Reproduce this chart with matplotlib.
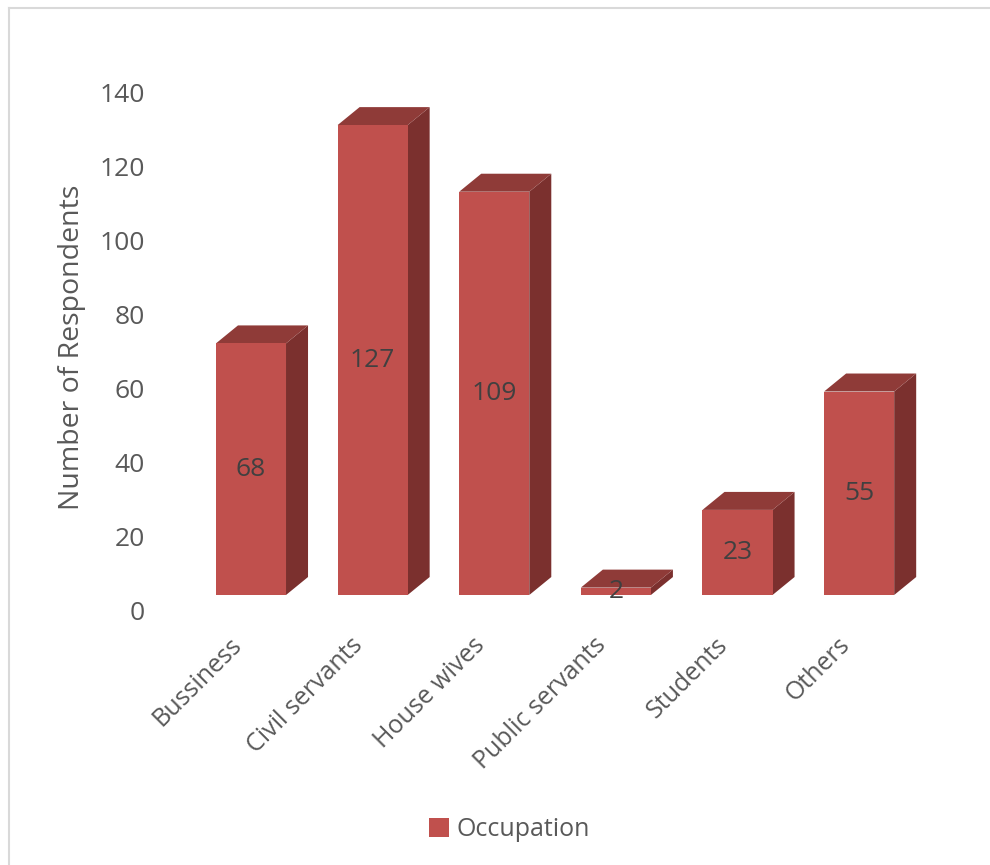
import matplotlib
matplotlib.use("Agg")
import matplotlib.pyplot as plt
from matplotlib.patches import Polygon
from matplotlib.transforms import ScaledTranslation
from matplotlib.lines import Line2D

categories = ["Bussiness", "Civil servants", "House wives", "Public servants", "Students", "Others"]
values = [68, 127, 109, 2, 23, 55]
series_name = "Occupation"
yticks = [0, 20, 40, 60, 80, 100, 120, 140]

FRONT = "#C0504D"
TOP = "#8F3B38"
SIDE = "#7B302E"
TEXT = "#595959"
LABEL = "#404040"
FONT = "Open Sans"
FS = 19

W, H, DPI = 990, 865, 100
fig = plt.figure(figsize=(W / DPI, H / DPI), dpi=DPI)
plt.rcParams['font.family'] = [FONT, 'DejaVu Sans']

# axes: px 160..950 horizontally, 77..595 vertically
ax = fig.add_axes([160 / W, (H - 595) / H, 790 / W, 518 / H])
ax.set_xlim(-0.748, 5.747)
ax.set_ylim(0, 140)

bw = 0.576
dx = 0.181   # depth in category units
dy = 4.86    # depth in value units

for i, v in enumerate(values):
    x0, x1 = i - bw / 2, i + bw / 2
    ax.add_patch(Polygon([(x1, 0), (x1 + dx, dy), (x1 + dx, v + dy), (x1, v)],
                         closed=True, facecolor=SIDE, edgecolor='none', zorder=2))
    ax.add_patch(Polygon([(x0, v), (x1, v), (x1 + dx, v + dy), (x0 + dx, v + dy)],
                         closed=True, facecolor=TOP, edgecolor='none', zorder=2))
bars = ax.bar(range(len(values)), values, width=bw, color=FRONT, zorder=3)
for i, v in enumerate(values):
    ax.text(i, v / 2, str(v), ha='center', va='center', fontsize=FS, color=LABEL,
            family=FONT, zorder=4)

for s in ax.spines.values():
    s.set_visible(False)
ax.set_yticks(yticks)
ax.set_yticklabels([str(t) for t in yticks], fontsize=FS, color=TEXT, family=FONT)
ax.tick_params(axis='y', length=0, pad=10.8)
ax.set_xticks(range(len(categories)))
ax.set_xticklabels(categories, rotation=45, ha='right', rotation_mode='anchor',
                   fontsize=FS - 1, color=TEXT, family=FONT)
ax.tick_params(axis='x', length=0, pad=27)

off_y = ScaledTranslation(0, -15 / DPI, fig.dpi_scale_trans)
for lab in ax.get_yticklabels():
    lab.set_transform(lab.get_transform() + off_y)
off_x = ScaledTranslation(-22 / DPI, 0, fig.dpi_scale_trans)
for lab in ax.get_xticklabels():
    lab.set_transform(lab.get_transform() + off_x)

ax.set_ylabel("Number of Respondents", fontsize=FS + 1.5, color=TEXT, family=FONT)
ax.yaxis.set_label_coords((86 - 160) / 790, (595 - 347) / 518)

leg = fig.legend([bars], [series_name], loc='center', bbox_to_anchor=(509 / W, 1 - 830 / H),
                 frameon=False, handlelength=0.8, handleheight=0.8,
                 handletextpad=0.3, labelcolor=TEXT, prop={'family': FONT, 'size': FS - 1})

# chart border (top and left visible)
fig.add_artist(Line2D([9 / W, 9 / W], [0, 1 - 8 / H], color='#D9D9D9', lw=1.5,
                      transform=fig.transFigure))
fig.add_artist(Line2D([9 / W, 1], [1 - 8 / H, 1 - 8 / H], color='#D9D9D9', lw=1.5,
                      transform=fig.transFigure))

fig.savefig("out.png", dpi=DPI)
